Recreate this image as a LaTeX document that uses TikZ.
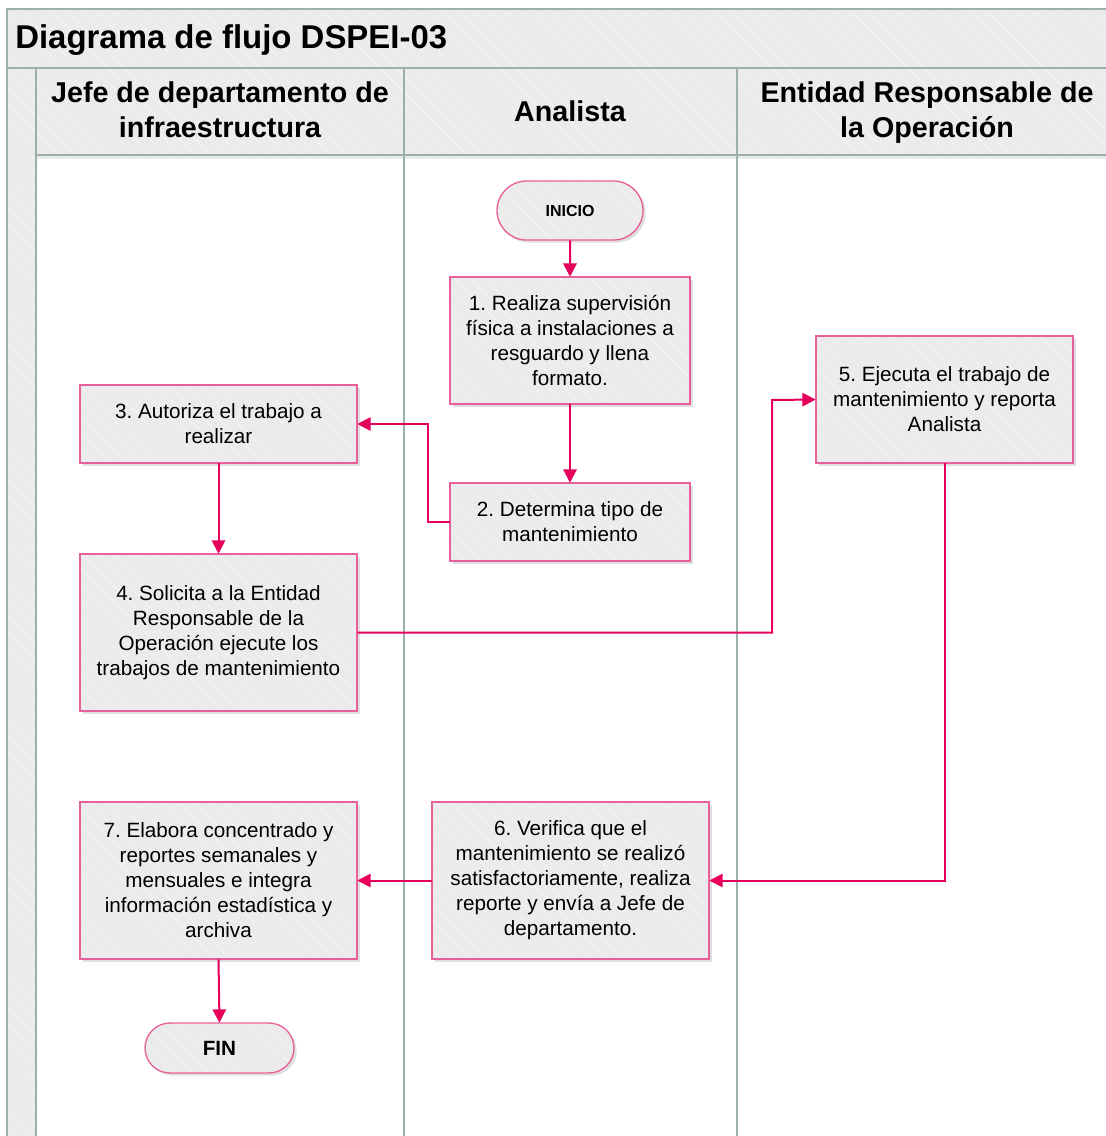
\documentclass[tikz,border=0pt]{standalone}
\usepackage{fontspec}
\setmainfont{Liberation Sans}
\frenchspacing
\usetikzlibrary{arrows.meta,shadows,patterns.meta,shapes.misc}
\definecolor{lanefill}{HTML}{EBEBEB}
\definecolor{laneline}{HTML}{9BB0AA}
\definecolor{boxline}{HTML}{E8609A}
\definecolor{arrowc}{HTML}{E5005B}
\definecolor{hatchc}{HTML}{F3F3F3}
\tikzset{
  hatchfill/.style={postaction={pattern={Lines[angle=-45,distance=8pt,line width=0.7pt]},pattern color=hatchc}},
  shadowed/.style={drop shadow={opacity=0.25,shadow xshift=2pt,shadow yshift=-2pt}},
  proc/.style={fill=lanefill,shadowed,hatchfill,postaction={draw=boxline,line width=1pt},align=center,
    inner sep=0pt,font=\fontsize{15.5}{18.75}\selectfont},
  term/.style={proc,rounded rectangle,font=\bfseries\fontsize{15.5}{18.75}\selectfont},
  lanetxt/.style={align=center,font=\bfseries\fontsize{21.5}{26.25}\selectfont,inner sep=0pt},
  titletxt/.style={font=\bfseries\fontsize{24.7}{29}\selectfont,inner sep=0pt},
  laneln/.style={draw=laneline,line width=1.1pt},
  flow/.style={draw=arrowc,line width=1.5pt,-{Triangle[length=10pt,width=10pt]}}
}
\begin{document}
\begin{tikzpicture}[x=0.75pt,y=-0.75pt]
\useasboundingbox (0,0) rectangle (1106,1136);
\clip (0,0) rectangle (1106,1136);
% pool background
\path[fill=lanefill,hatchfill] (7,9) rectangle (1140,68);
\path[fill=lanefill,hatchfill] (7,68) rectangle (36,1150);
\path[fill=lanefill,hatchfill] (36,68) rectangle (1140,155);
\fill[black,opacity=0.08] (36,155) rectangle (1140,159);
% lane lines
\draw[laneln] (1140,9) -- (7,9) -- (7,1150);
\draw[laneln] (7,68) -- (1140,68);
\draw[laneln] (36,68) -- (36,1150);
\draw[laneln] (404,68) -- (404,1150);
\draw[laneln] (737,68) -- (737,1150);
\draw[laneln] (36,155) -- (1140,155);
% texts
\node[titletxt,anchor=west] (title) at (15,40) {Diagrama de flujo DSPEI-03};
\node[lanetxt] (lane1) at (220,109.5) {Jefe de departamento de\\infraestructura};
\node[lanetxt] (lane2) at (570,111) {Analista};
\node[lanetxt] (lane3) at (927,112.5) {Entidad Responsable de\\la Operación};
% nodes
\node[term,minimum width=109.5pt,minimum height=44.25pt,font=\bfseries\fontsize{12}{14}\selectfont] (inicio) at (570,210.5) {INICIO};
\node[proc,minimum width=180pt,minimum height=95.25pt] (b1) at (570,340.5)
  {1. Realiza supervisión\\física a instalaciones a\\resguardo y llena\\formato.};
\node[proc,minimum width=180pt,minimum height=58.5pt] (b2) at (570,522)
  {2. Determina tipo de\\mantenimiento};
\node[proc,minimum width=207.75pt,minimum height=58.5pt] (b3) at (218.5,424)
  {3. Autoriza el trabajo a\\realizar};
\node[proc,minimum width=207.75pt,minimum height=117.75pt] (b4) at (218.5,632.5)
  {4. Solicita a la Entidad\\Responsable de la\\Operación ejecute los\\trabajos de mantenimiento};
\node[proc,minimum width=192.75pt,minimum height=95.25pt] (b5) at (944.5,399.5)
  {5. Ejecuta el trabajo de\\mantenimiento y reporta\\Analista};
\node[proc,minimum width=207.75pt,minimum height=117.75pt] (b6) at (570.5,880.5)
  {6. Verifica que el\\mantenimiento se realizó\\satisfactoriamente, realiza\\reporte y envía a Jefe de\\departamento.};
\node[proc,minimum width=207.75pt,minimum height=117.75pt] (b7) at (218.5,880.5)
  {7. Elabora concentrado y\\reportes semanales y\\mensuales e integra\\información estadística y\\archiva};
\node[term,minimum width=111.75pt,minimum height=37.5pt] (fin) at (219.5,1048) {FIN};
% connectors
\coordinate (j2) at (428,522);
\coordinate (j4) at (772,400);
\draw[flow] (inicio) -- (b1);
\draw[flow] (b1) -- (b2);
\draw[flow] (b2.west) -- (j2) |- (b3.east);
\draw[flow] (b3) -- (b4);
\draw[flow] (b4.east) -| (j4) -- (b5.west);
\draw[flow] (b5.south) |- (b6.east);
\draw[flow] (b6.west) -- (b7.east);
\draw[flow] (b7.south) -- (fin.north);
\end{tikzpicture}
\end{document}
